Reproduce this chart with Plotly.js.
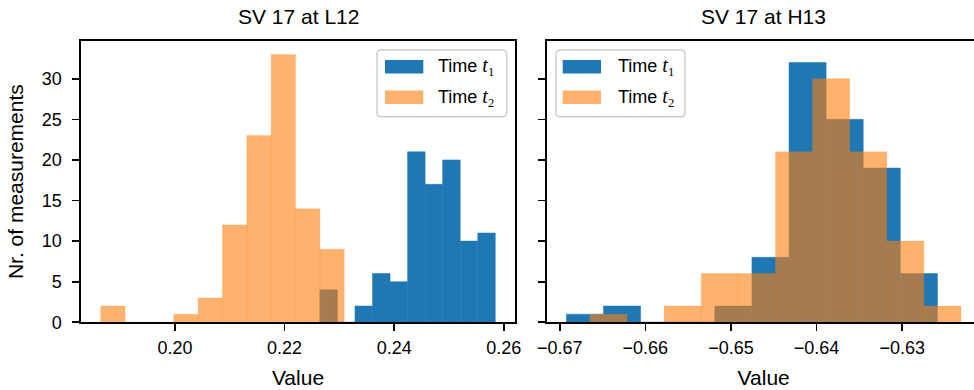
<!DOCTYPE html>
<html>
<head>
<meta charset="utf-8">
<script src="https://cdn.plot.ly/plotly-3.0.1.min.js"></script>
<style>
html, body { margin: 0; padding: 0; overflow: hidden; background: #ffffff; }
#chart { width: 982px; height: 390px; }
</style>
</head>
<body>
<div id="chart"></div>
<script>
// ---------------- data ----------------
const panelTitles = ["SV 17 at L12", "SV 17 at H13"];
const seriesNames = ["Time t1", "Time t2"];

// Left panel (L12) histograms
const l12T1Start = 0.22644;
const l12T1Width = 0.0032;
const l12T1Counts = [4, 0, 2, 6, 5, 21, 17, 20, 10, 11];

const l12T2Start = 0.18645;
const l12T2Width = 0.004443;
const l12T2Counts = [2, 0, 0, 1, 3, 12, 23, 33, 14, 9];

// Right panel (H13) histograms
const h13T1Start = -0.66922;
const h13T1Width = 0.004334;
const h13T1Counts = [1, 2, 0, 0, 2, 8, 32, 25, 19, 6];

const h13T2Start = -0.66647;
const h13T2Width = 0.004334;
const h13T2Counts = [1, 0, 2, 6, 6, 21, 30, 21, 10, 2];

// Tick labels
const yTicks = [0, 5, 10, 15, 20, 25, 30];
const l12XTicks = [0.20, 0.22, 0.24, 0.26];
const h13XTicks = [-0.67, -0.66, -0.65, -0.64, -0.63];

// ---------------- build ----------------
const W = 982, H = 390;
const BLUE = "#1f77b4", ORANGE_A = "rgba(255,127,14,0.6)";
const FONT = "Liberation Sans, Arial, Helvetica, sans-serif";

function centers(start, width, counts) {
  return counts.map((_, i) => start + (i + 0.5) * width);
}
function barTrace(start, width, counts, color, lineColor, lineW, xa, ya, name) {
  return {
    type: "bar",
    x: centers(start, width, counts),
    y: counts,
    width: counts.map(() => width),
    marker: { color: color, line: { width: lineW, color: lineColor } },
    xaxis: xa, yaxis: ya,
    name: name,
    showlegend: false,
    hoverinfo: "skip"
  };
}

const traces = [
  barTrace(l12T1Start, l12T1Width, l12T1Counts, BLUE, BLUE, 0.5, "x", "y", seriesNames[0]),
  barTrace(l12T2Start, l12T2Width, l12T2Counts, ORANGE_A, "rgba(255,127,14,0.35)", 0.5, "x", "y", seriesNames[1]),
  barTrace(h13T1Start, h13T1Width, h13T1Counts, BLUE, BLUE, 0.5, "x2", "y2", seriesNames[0]),
  barTrace(h13T2Start, h13T2Width, h13T2Counts, ORANGE_A, "rgba(255,127,14,0.35)", 0.5, "x2", "y2", seriesNames[1])
];

function padRange(arrs) {
  let lo = Infinity, hi = -Infinity;
  arrs.forEach(([s, w, c]) => { lo = Math.min(lo, s); hi = Math.max(hi, s + w * c.length); });
  const m = (hi - lo) * 0.05;
  return [lo - m, hi + m];
}
const l12Range = padRange([[l12T1Start, l12T1Width, l12T1Counts], [l12T2Start, l12T2Width, l12T2Counts]]);
const h13Range = padRange([[h13T1Start, h13T1Width, h13T1Counts], [h13T2Start, h13T2Width, h13T2Counts]]);
const yMax = Math.max(...l12T1Counts, ...l12T2Counts, ...h13T1Counts, ...h13T2Counts) * 1.05;

// pixel geometry
const axL = [81, 515], axR = [546.7, 980.7], axTop = 41, axBot = 322.3;
const px = v => v / W;
const py = v => 1 - v / H;

const tickFont = { family: FONT, size: 18, color: "#000" };
const labelFont = { family: FONT, size: 21, color: "#000" };

function xAxis(dom, range, ticks, anchor) {
  return {
    domain: [px(dom[0]), px(dom[1])],
    range: range, anchor: anchor,
    tickmode: "array", tickvals: ticks, tickformat: ".2f",
    ticks: "outside", ticklen: 7, tickwidth: 1.6, tickcolor: "#000",
    ticklabelstandoff: 1,
    showline: true, mirror: true, linecolor: "#000", linewidth: 1.6,
    showgrid: false, zeroline: false,
    tickfont: tickFont,
    title: { text: "Value", font: labelFont, standoff: 14 },
    automargin: false, fixedrange: true
  };
}
function yAxis(anchor, labels) {
  return {
    domain: [py(axBot), py(axTop)],
    range: [0, yMax], anchor: anchor,
    tickmode: "array", tickvals: yTicks,
    ticks: "outside", ticklen: 7, tickwidth: 1.6, tickcolor: "#000",
    ticklabelstandoff: 7,
    showline: true, mirror: true, linecolor: "#000", linewidth: 1.6,
    showgrid: false, zeroline: false,
    showticklabels: labels,
    tickfont: tickFont,
    title: labels ? { text: "Nr. of measurements", font: labelFont, standoff: 12 } : { text: "" },
    automargin: false, fixedrange: true
  };
}

// custom matplotlib-like legends
function roundRect(x0, y0, x1, y1, r) {
  const X = v => px(v), Y = v => py(v);
  return `M ${X(x0 + r)} ${Y(y0)} L ${X(x1 - r)} ${Y(y0)} Q ${X(x1)} ${Y(y0)} ${X(x1)} ${Y(y0 + r)} ` +
         `L ${X(x1)} ${Y(y1 - r)} Q ${X(x1)} ${Y(y1)} ${X(x1 - r)} ${Y(y1)} ` +
         `L ${X(x0 + r)} ${Y(y1)} Q ${X(x0)} ${Y(y1)} ${X(x0)} ${Y(y1 - r)} ` +
         `L ${X(x0)} ${Y(y0 + r)} Q ${X(x0)} ${Y(y0)} ${X(x0 + r)} ${Y(y0)} Z`;
}
function legendItems(box, patchX, textX, rows) {
  const shapes = [{
    type: "path", xref: "paper", yref: "paper",
    path: roundRect(box[0], box[1], box[2], box[3], 4),
    fillcolor: "rgba(255,255,255,0.8)", line: { color: "#cccccc", width: 1.4 }, layer: "above"
  }];
  const annots = [];
  const cols = [BLUE, ORANGE_A];
  const subs = ["1", "2"];
  rows.forEach((yc, i) => {
    shapes.push({
      type: "rect", xref: "paper", yref: "paper",
      x0: px(patchX[0]), x1: px(patchX[1]), y0: py(yc - 6.7), y1: py(yc + 6.7),
      fillcolor: cols[i], line: { width: 0 }, layer: "above"
    });
    annots.push({
      xref: "paper", yref: "paper", x: px(textX), y: py(yc),
      xanchor: "left", yanchor: "middle", showarrow: false,
      text: 'Time <span style="font-family:Liberation Serif;font-style:italic;font-size:20px">t</span>' +
            '<sub><span style="font-family:Liberation Serif">' + subs[i] + '</span></sub>',
      font: { family: FONT, size: 18, color: "#000" }
    });
  });
  return { shapes, annots };
}
const legL = legendItems([377, 50, 506.7, 116.7], [385, 423.3], 435.5, [66.7, 97.3]);
const legR = legendItems([556, 50, 685, 116.7], [562.7, 601], 615.5, [66.7, 97.3]);

const titleAnnots = panelTitles.map((t, i) => ({
  xref: "paper", yref: "paper",
  x: px(i === 0 ? (axL[0] + axL[1]) / 2 : (axR[0] + axR[1]) / 2),
  y: py(17), xanchor: "center", yanchor: "middle", showarrow: false,
  text: t, font: labelFont
}));

const layout = {
  width: W, height: H,
  margin: { l: 0, r: 0, t: 0, b: 0 },
  paper_bgcolor: "#ffffff", plot_bgcolor: "#ffffff",
  barmode: "overlay",
  showlegend: false,
  font: { family: FONT, color: "#000" },
  xaxis: xAxis(axL, l12Range, l12XTicks, "y"),
  yaxis: yAxis("x", true),
  xaxis2: xAxis(axR, h13Range, h13XTicks, "y2"),
  yaxis2: yAxis("x2", false),
  shapes: [...legL.shapes, ...legR.shapes],
  annotations: [...titleAnnots, ...legL.annots, ...legR.annots]
};

Plotly.newPlot("chart", traces, layout, { displayModeBar: false, staticPlot: true });
</script>
</body>
</html>
